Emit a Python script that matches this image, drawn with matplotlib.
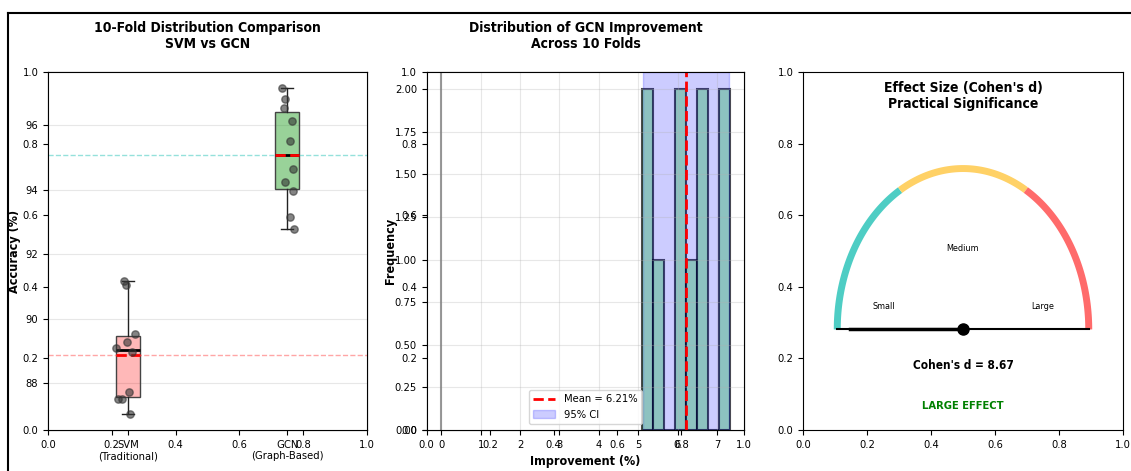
import numpy as np
import matplotlib
matplotlib.use("Agg")
import matplotlib.pyplot as plt
from matplotlib import font_manager
from matplotlib.lines import Line2D

# ---------------- data ----------------
svm_acc = [91.17, 91.04, 89.52, 89.28, 89.10, 88.97, 87.72, 87.53, 87.53, 87.06]
gcn_acc = [97.15, 96.83, 96.53, 96.12, 95.50, 94.64, 94.23, 93.96, 93.15, 92.80]
svm_jitter = [-0.021, -0.014, 0.043, -0.004, -0.073, 0.028, 0.005, -0.063, -0.036, 0.011]
gcn_jitter = [-0.032, -0.011, -0.021, 0.027, 0.017, 0.038, -0.011, 0.038, 0.015, 0.044]
model_labels = ['SVM\n(Traditional)', 'GCN\n(Graph-Based)']

improvements = [5.08, 5.25, 5.50, 6.00, 6.15, 6.35, 6.55, 6.72, 7.18, 7.32]
n_bins = 8
ci_low, ci_high = 5.13, 7.31

cohens_d = 8.67
effect_labels = ['Small', 'Medium', 'Large']
effect_colors = ['#4ECDC4', '#FFD166', '#FF6B6B']

# ---------------- fonts ----------------
has_cond = any(f.name == 'DejaVu Sans' and str(f.stretch) in ('condensed', 'semi-condensed', '87.5', '75')
               for f in font_manager.fontManager.ttflist)
plt.rcParams['font.family'] = ['DejaVu Sans']
if has_cond:
    plt.rcParams['font.stretch'] = 'condensed'

W, H = 1131, 471
fig = plt.figure(figsize=(W / 100, H / 100), dpi=100)

rects = [
    [48 / W, 41 / H, 319 / W, 358 / H],
    [426.7 / W, 41 / H, 317.6 / W, 358 / H],
    [803.3 / W, 41 / H, 319.4 / W, 358 / H],
]

# base (empty) axes underneath each panel
for r in rects:
    b = fig.add_axes(r)
    b.tick_params(labelsize=8)

# ---------------- panel 1: boxplot ----------------
ax1 = fig.add_axes(rects[0])
bp = ax1.boxplot([svm_acc, gcn_acc], positions=[1, 2], widths=0.15, patch_artist=True,
                 showmeans=True, meanline=True, tick_labels=model_labels,
                 medianprops=dict(color='black', linewidth=2),
                 meanprops=dict(color='red', linestyle='--', linewidth=2),
                 boxprops=dict(edgecolor='#444444', linewidth=1),
                 whiskerprops=dict(color='#222222'), capprops=dict(color='#222222'))
box_colors = [(1.0, 0.0, 0.0, 0.28), (0.17, 0.63, 0.17, 0.48)]
for patch, c in zip(bp['boxes'], box_colors):
    patch.set_facecolor(c)
ax1.scatter(1 + np.array(svm_jitter), svm_acc, color='#333333', alpha=0.6, s=28, zorder=3)
ax1.scatter(2 + np.array(gcn_jitter), gcn_acc, color='#333333', alpha=0.6, s=28, zorder=3)
ax1.axhline(np.mean(svm_acc), color='#FF6B6B', linestyle='--', alpha=0.6, linewidth=1)
ax1.axhline(np.mean(gcn_acc), color='#4ECDC4', linestyle='--', alpha=0.6, linewidth=1)
ax1.set_xlim(0.5, 2.5)
ax1.grid(axis='y', alpha=0.3)
ax1.tick_params(labelsize=8)
ax1.set_ylabel('Accuracy (%)', fontweight='bold', fontsize=9, labelpad=3)
ax1.set_title('10-Fold Distribution Comparison\nSVM vs GCN', fontweight='bold', fontsize=10, pad=17)

# ---------------- panel 2: histogram ----------------
ax2 = fig.add_axes(rects[1])
mean_imp = np.mean(improvements)
ax2.hist(improvements, bins=n_bins, color='lightgreen', alpha=0.7, edgecolor='black', linewidth=1.5)
ax2.axvline(0, color='gray', linewidth=1.5, alpha=0.8)
ax2.axvline(mean_imp, color='red', linestyle='--', linewidth=2, label=f'Mean = {mean_imp:.2f}%')
ax2.axvspan(ci_low, ci_high, alpha=0.2, color='blue', label='95% CI')
ax2.grid(alpha=0.3)
ax2.tick_params(labelsize=8)
ax2.set_xlabel('Improvement (%)', fontweight='bold', fontsize=9)
ax2.set_ylabel('Frequency', fontweight='bold', fontsize=9, labelpad=-1.5)
ax2.set_title('Distribution of GCN Improvement\nAcross 10 Folds', fontweight='bold', fontsize=10, pad=17)
ax2.legend(loc='lower center', fontsize=8)

# ---------------- panel 3: gauge ----------------
ax3 = fig.add_axes(rects[2])
ax3.axis('off')
ax3.set_xlim(-1.27, 1.27)
ax3.set_ylim(-0.625, 1.6)
seg_edges = np.linspace(np.pi, 0, len(effect_colors) + 1)
label_xy = [(-0.63, 0.14), (0.0, 0.505), (0.63, 0.14)]
for i, c in enumerate(effect_colors):
    th = np.linspace(seg_edges[i], seg_edges[i + 1], 60)
    ax3.plot(np.cos(th), np.sin(th), color=c, linewidth=5, solid_capstyle='butt')
    ax3.text(label_xy[i][0], label_xy[i][1], effect_labels[i], ha='center', va='center', fontsize=6.5)
ax3.plot([-1, 1], [0, 0], color='black', linewidth=1.5)
needle_angle = np.pi * min(cohens_d / 2.0, 1.0)
ax3.plot([0, 0.9 * np.cos(needle_angle)], [0, 0.9 * np.sin(needle_angle)], color='black', linewidth=2.5)
ax3.plot(0, 0, 'o', color='black', markersize=8)
ax3.text(0.5, 0.9335, "Effect Size (Cohen's d)\nPractical Significance", transform=ax3.transAxes,
         ha='center', va='center', fontsize=10, fontweight='bold')
ax3.text(0.5, 0.179, f"Cohen's d = {cohens_d:.2f}", transform=ax3.transAxes,
         ha='center', va='center', fontsize=8.5, fontweight='bold')
ax3.text(0.5, 0.067, 'LARGE EFFECT', transform=ax3.transAxes,
         ha='center', va='center', fontsize=8, fontweight='bold', color='green')

# figure frame (partially cropped)
xl = 8 / W
yt = 1 - 12.7 / H
fig.add_artist(Line2D([xl, 1.0], [yt, yt], transform=fig.transFigure, color='black', linewidth=1.5))
fig.add_artist(Line2D([xl, xl], [0.0, yt], transform=fig.transFigure, color='black', linewidth=1.5))

fig.savefig('out.png', dpi=100)
